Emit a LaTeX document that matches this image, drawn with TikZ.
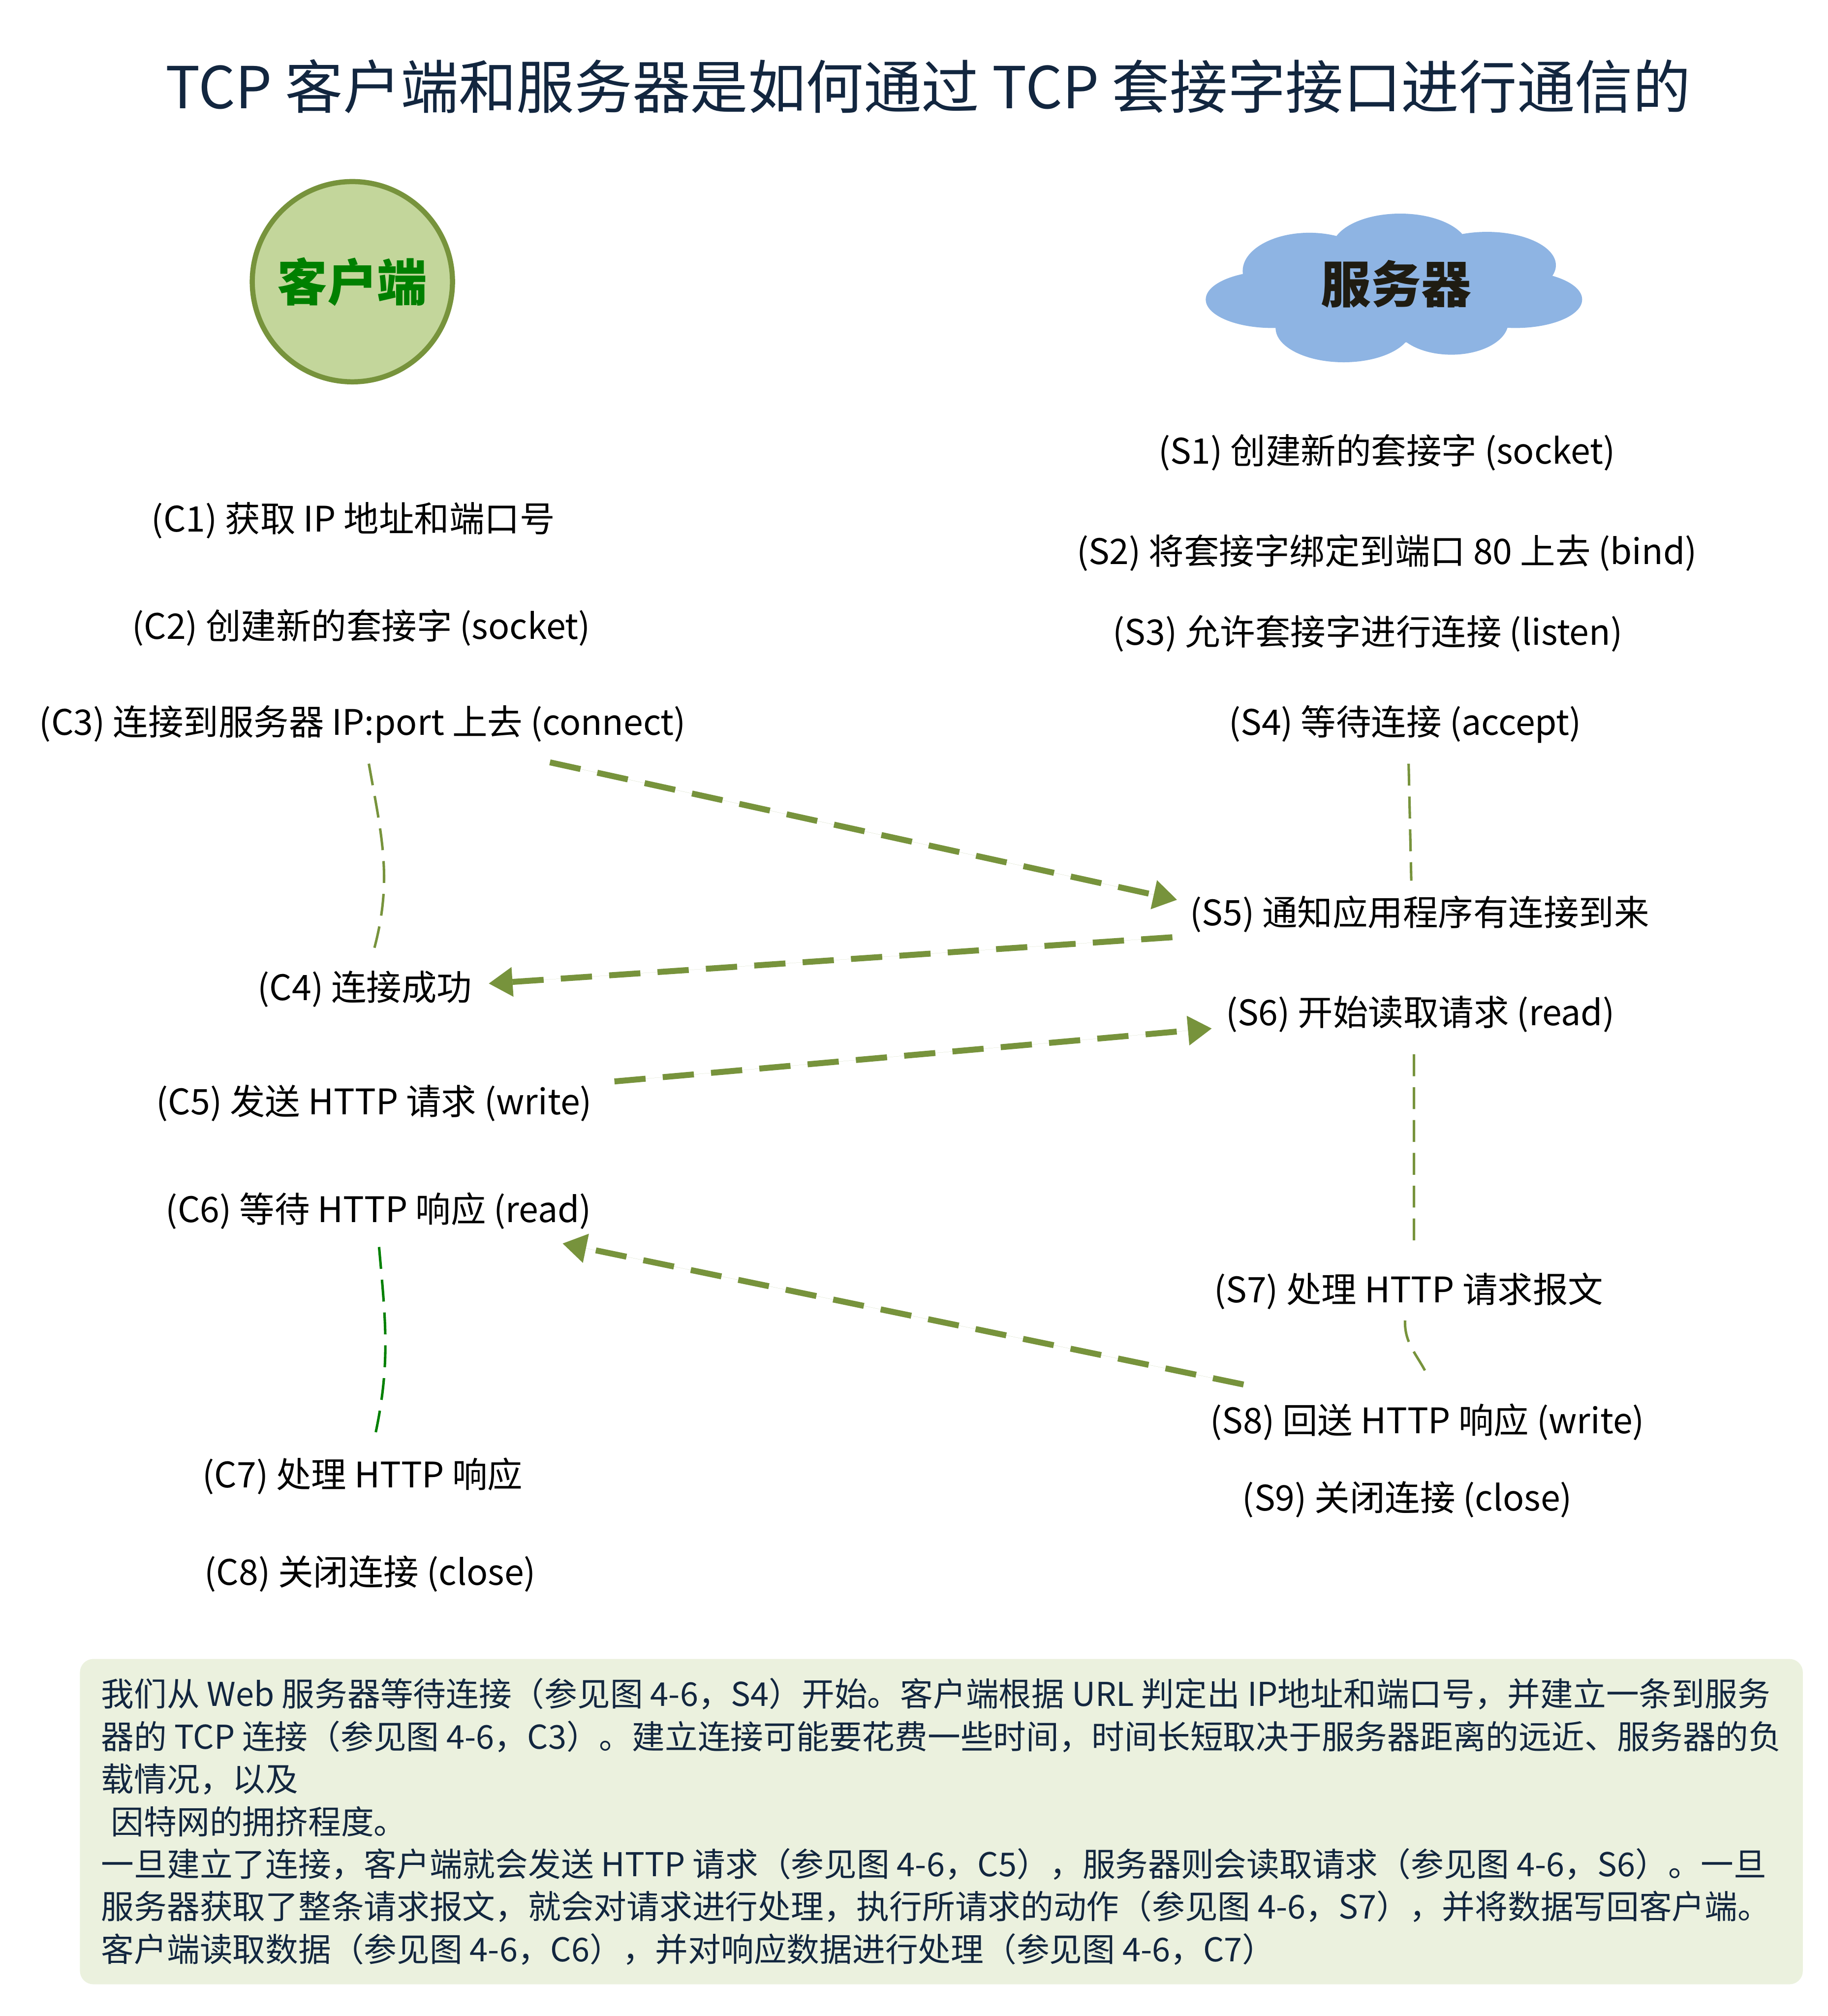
\documentclass[tikz,border=0pt]{standalone}
\usepackage{fontspec}
\setmainfont{Noto Sans CJK SC}
\usepackage{xcolor}
\usetikzlibrary{positioning,arrows.meta,calc}
\definecolor{titlenavy}{RGB}{18,38,63}
\definecolor{clientfill}{RGB}{195,214,155}
\definecolor{clientline}{RGB}{119,147,60}
\definecolor{clientgreen}{RGB}{0,128,0}
\definecolor{serverblue}{RGB}{142,180,227}
\definecolor{serverink}{RGB}{31,28,18}
\definecolor{flowgreen}{RGB}{119,147,60}
\definecolor{notefill}{RGB}{235,241,222}
\tikzset{
  steplabel/.style={font=\fontsize{22.5}{27}\selectfont,inner sep=1mm},
  hostlabel/.style={font=\fontsize{32}{36}\selectfont\bfseries},
  msgflow/.style={-{Triangle[length=5.4mm,width=6.3mm]},draw=flowgreen,fill=flowgreen,line width=3.8pt,dash pattern=on 20pt off 11pt},
  seqline/.style={draw=flowgreen,line width=1.6pt,dash pattern=on 14pt off 7pt},
  notebox/.style={fill=notefill,rounded corners=0.3cm,align=left,inner xsep=0.48cm,inner ysep=0.3cm,minimum width=38.66cm,minimum height=7.31cm,font=\fontsize{21}{27.2}\selectfont,text=titlenavy},
}
\begin{document}
\begin{tikzpicture}
  \useasboundingbox (0,0) rectangle (41.08,-45.30);
  % title
  \node[font=\fontsize{37}{44}\selectfont,text=titlenavy] (title) at (20.86,-1.94)
    {TCP 客户端和服务器是如何通过 TCP 套接字接口进行通信的};
  % the two hosts
  \node[hostlabel,circle,draw=clientline,line width=3.3pt,fill=clientfill,minimum size=4.5cm,text=clientgreen] (client) at (7.92,-6.33) {客户端};
  \fill[serverblue] (31.30,-6.50) ellipse [x radius=3.0cm,y radius=1.2cm]
    (31.47,-5.58) ellipse [x radius=1.53cm,y radius=0.78cm]
    (29.43,-6.09) ellipse [x radius=1.50cm,y radius=0.86cm]
    (33.42,-5.96) ellipse [x radius=1.55cm,y radius=0.75cm]
    (28.60,-6.73) ellipse [x radius=1.50cm,y radius=0.64cm]
    (34.06,-6.73) ellipse [x radius=1.50cm,y radius=0.64cm]
    (30.20,-7.37) ellipse [x radius=1.53cm,y radius=0.77cm]
    (32.62,-7.24) ellipse [x radius=1.28cm,y radius=0.73cm];
  \node[hostlabel,text=serverink] (server) at (31.38,-6.38) {服务器};
  % client steps
  \node[steplabel] (c1) at (7.94,-11.70) {(C1) 获取 IP 地址和端口号};
  \node[steplabel] (c2) at (8.12,-14.10) {(C2) 创建新的套接字 (socket)};
  \node[steplabel] (c3) at (8.15,-16.27) {(C3) 连接到服务器 IP:port 上去 (connect)};
  \node[steplabel] (c4) at (8.20,-22.22) {(C4) 连接成功};
  \node[steplabel] (c5) at (8.41,-24.79) {(C5) 发送 HTTP 请求 (write)};
  \node[steplabel] (c6) at (8.51,-27.21) {(C6) 等待 HTTP 响应 (read)};
  \node[steplabel] (c7) at (8.15,-33.17) {(C7) 处理 HTTP 响应};
  \node[steplabel] (c8) at (8.32,-35.36) {(C8) 关闭连接 (close)};
  % server steps
  \node[steplabel] (s1) at (31.17,-10.17) {(S1) 创建新的套接字 (socket)};
  \node[steplabel] (s2) at (31.17,-12.42) {(S2) 将套接字绑定到端口 80 上去 (bind)};
  \node[steplabel] (s3) at (30.74,-14.24) {(S3) 允许套接字进行连接 (listen)};
  \node[steplabel] (s4) at (31.58,-16.27) {(S4) 等待连接 (accept)};
  \node[steplabel] (s5) at (31.91,-20.54) {(S5) 通知应用程序有连接到来};
  \node[steplabel] (s6) at (31.92,-22.79) {(S6) 开始读取请求 (read)};
  \node[steplabel] (s7) at (31.66,-29.01) {(S7) 处理 HTTP 请求报文};
  \node[steplabel] (s8) at (32.08,-31.95) {(S8) 回送 HTTP 响应 (write)};
  \node[steplabel] (s9) at (31.63,-33.69) {(S9) 关闭连接 (close)};
  % messages between client and server
  \draw[msgflow] ($(c3)+(4.21,-0.86)$) -- ($(s5)+(-5.45,0.32)$);
  \draw[msgflow] ($(s5)+(-5.56,-0.52)$) -- ($(c4)+(2.78,0.12)$);
  \draw[msgflow] ($(c5)+(5.40,0.49)$) -- ($(s6)+(-4.68,-0.32)$);
  \draw[msgflow] ($(s8)+(-4.13,0.84)$) -- ($(c6)+(4.13,-0.73)$);
  % waiting on each side
  \draw[seqline] ($(c3)+(0.14,-0.89)$) to[out=-80,in=75] ($(c4)+(0.21,0.90)$);
  \draw[seqline,draw=clientgreen] ($(c6)+(0.01,-0.81)$) to[out=-85,in=78] ($(c7)+(0.29,0.96)$);
  \draw[seqline] ($(s4)+(0.08,-0.89)$) -- ($(s5)+(-0.19,0.75)$);
  \draw[seqline] ($(s6)+(-0.14,-0.90)$) -- ($(s7)+(0.12,0.93)$);
  \draw[seqline] ($(s7)+(-0.08,-0.66)$) to[out=-92,in=115] ($(s8)+(0.02,1.01)$);
  % explanation
  \node[notebox,anchor=north west] (note) at (1.79,-37.27)
    {我们从 Web 服务器等待连接（参见图 4-6，S4）开始。客户端根据 URL 判定出 IP地址和端口号，并建立一条到服务\\
     器的 TCP 连接（参见图 4-6，C3）。建立连接可能要花费一些时间，时间长短取决于服务器距离的远近、服务器的负\\
     载情况，以及\\
     \hspace*{0.3em}因特网的拥挤程度。\\
     一旦建立了连接，客户端就会发送 HTTP 请求（参见图 4-6，C5），服务器则会读取请求（参见图 4-6，S6）。一旦\\
     服务器获取了整条请求报文，就会对请求进行处理，执行所请求的动作（参见图 4-6，S7），并将数据写回客户端。\\
     客户端读取数据（参见图 4-6，C6），并对响应数据进行处理（参见图 4-6，C7）};
\end{tikzpicture}
\end{document}
